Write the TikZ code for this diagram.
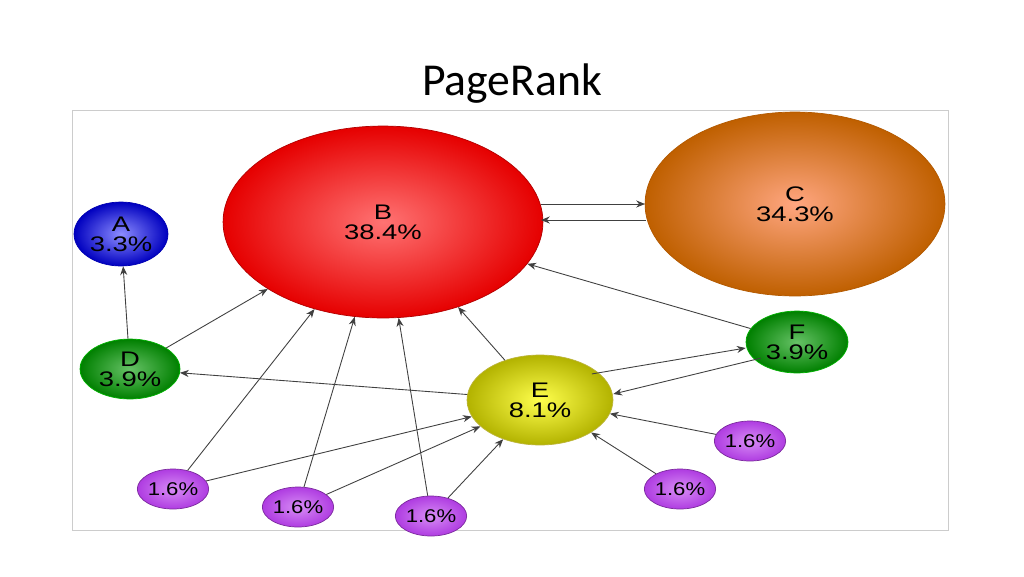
\documentclass[tikz,border=0pt]{standalone}
\usepackage{fontspec}
\setmainfont{Liberation Sans}
\newfontfamily\titlefont{Carlito}
\usetikzlibrary{shapes.geometric,arrows.meta}
\definecolor{pu}{RGB}{175,60,225}
\definecolor{pul}{RGB}{215,140,245}
\tikzset{
 pr/.style args={#1/#2/#3/#4/#5}{ellipse,draw=#5!70!black,line width=0.4pt,inner sep=0pt,
   minimum width=#1*0.04cm,minimum height=#2*0.04cm,inner color=#3,outer color=#4,
   shading=radial,align=center,font=\fontsize{12}{13}\selectfont},
 sm/.style={pr=34/20/pul/pu/pu,font=\fontsize{10.5}{12}\selectfont},
 lnk/.style={draw=black!75,line width=0.5pt,-{Stealth[length=5pt,width=4pt]}}
}
\newcommand{\lab}[1]{\scalebox{1.3}[1]{\shortstack{#1}}}
\newcommand{\slab}[1]{\scalebox{1.2}[1]{#1}}
\begin{document}
\begin{tikzpicture}[x=0.02cm,y=-0.02cm]
\useasboundingbox[fill=white] (0,0) rectangle (1024,576);
\node[font=\titlefont\fontsize{26}{30}\selectfont] (title) at (512,84) {PageRank};
\draw[black!20,fill=white] (72,110) rectangle (948,530);
\node[pr=47/32/blue!45/blue!75!black/blue] (A) at (121,234) {\lab{A\\3.3\%}};
\node[pr=160/96/red!55/red!90!black/red] (B) at (383,222) {\lab{B\\38.4\%}};
\node[pr=150/92/orange!60!red!50/orange!75!black/orange] (C) at (795,204) {\lab{C\\34.3\%}};
\node[pr=50/30/green!60!black!60/green!50!black/green] (D) at (130,369) {\lab{D\\3.9\%}};
\node[pr=73/45/yellow!70/yellow!70!black/yellow] (E) at (540,400) {\lab{E\\8.1\%}};
\node[pr=51/31/green!60!black!60/green!50!black/green] (F) at (797,342) {\lab{F\\3.9\%}};
\node[sm] (p1) at (173,489) {\slab{1.6\%}};
\node[sm] (p2) at (298,507) {\slab{1.6\%}};
\node[sm] (p3) at (431,516) {\slab{1.6\%}};
\node[sm] (p4) at (680,489) {\slab{1.6\%}};
\node[sm] (p5) at (750,441) {\slab{1.6\%}};
\coordinate (b1) at (541,204);
\coordinate (c1) at (645,204);
\coordinate (b2) at (541,220);
\coordinate (c2) at (646,220);
\draw[lnk] (D) -- (A);
\draw[lnk] (D) -- (B);
\draw[lnk] (E) -- (D);
\draw[lnk] (E) -- (B);
\draw[lnk] (F) -- (B);
\draw[lnk] (b1) -- (c1);
\draw[lnk] (c2) -- (b2);
\draw[lnk] ([yshift=-0.12cm]E.north east) -- ([yshift=-0.12cm]F.west);
\draw[lnk] ([yshift=0.12cm]F.south west) -- ([yshift=0.12cm]E.east);
\draw[lnk] (p1) -- (B);
\draw[lnk] (p1) -- (E);
\draw[lnk] (p2) -- (B);
\draw[lnk] (p2) -- (E);
\draw[lnk] (p3) -- (B);
\draw[lnk] (p3) -- (E);
\draw[lnk] (p4) -- (E);
\draw[lnk] (p5) -- (E);
\end{tikzpicture}
\end{document}
